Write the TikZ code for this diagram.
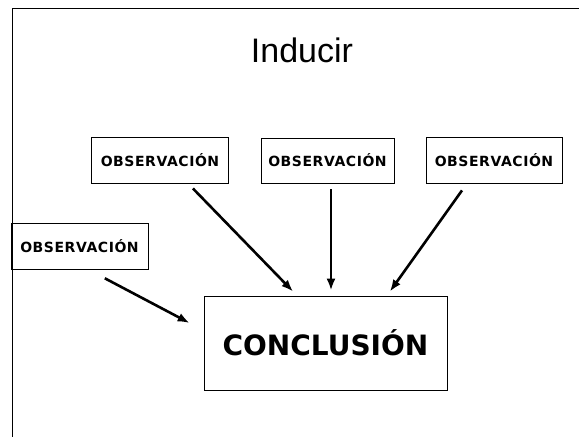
\documentclass[tikz,border=0pt]{standalone}
\usepackage{fontspec}
\setmainfont{Liberation Sans}
\newfontfamily\boxfont[LetterSpace=4]{DejaVu Sans Bold}
\newfontfamily\concfont{DejaVu Sans Bold}
\usetikzlibrary{arrows.meta}
\begin{document}
\begin{tikzpicture}[x=1pt,y=-1pt,
  obsbox/.style={draw=black, line width=0.8pt, inner sep=0pt, minimum width=137pt, minimum height=46pt,
    font=\boxfont\fontsize{14}{16}\selectfont},
  concbox/.style={draw=black, line width=0.8pt, inner sep=0pt, minimum width=243pt, minimum height=94pt,
    font=\concfont\fontsize{28}{32}\selectfont},
  arr/.style={line width=2.6pt, -{Latex[length=12pt,width=9pt]}}]
\useasboundingbox (0,0) rectangle (579,437);
\draw[line width=0.9pt] (579,8) -- (12,8) -- (12,437);
\node[anchor=base, font=\fontsize{34}{40}\selectfont] (title) at (302,62) {Inducir};
\node[obsbox] (o1) at (160,160) {OBSERVACIÓN};
\node[obsbox, minimum width=133pt, minimum height=45pt] (o2) at (327.5,160.5) {OBSERVACIÓN};
\node[obsbox, minimum width=136pt] (o3) at (494,160) {OBSERVACIÓN};
\node[obsbox] (o4) at (79.5,246) {OBSERVACIÓN};
\node[concbox] (c) at (325.5,343) {CONCLUSIÓN};
\draw[arr, shorten <=7pt, shorten >=5.5pt] ([xshift=28pt]o1.south) -- ([xshift=-28.5pt]c.north);
\draw[arr, shorten <=6pt, shorten >=5pt] ([xshift=3.5pt]o2.south) -- ([xshift=5.5pt]c.north);
\draw[arr, shorten <=8.6pt, shorten >=4.9pt] ([xshift=-27pt]o3.south) -- ([xshift=61.5pt]c.north);
\draw[arr, shorten <=19pt, shorten >=15.8pt] ([xshift=8.5pt]o4.south) -- ([yshift=12.6pt]c.west);
\end{tikzpicture}
\end{document}
